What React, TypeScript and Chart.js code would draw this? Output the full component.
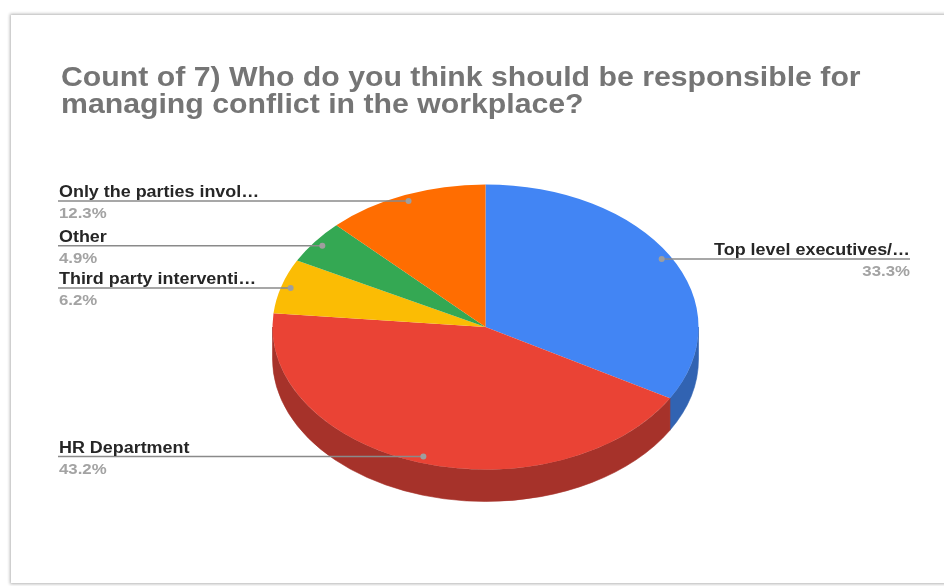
import React, { useEffect, useRef } from "react";
import { Chart, registerables } from "chart.js";

Chart.register(...registerables);

// ---- data ----
const TITLE_LINES = [
  "Count of 7) Who do you think should be responsible for",
  "managing conflict in the workplace?",
];
const categories = [
  "Top level executives/…",
  "HR Department",
  "Third party interventi…",
  "Other",
  "Only the parties invol…",
];
const counts = [27, 35, 5, 4, 10];
const topColors = ["#4285F4", "#EA4335", "#FBBC04", "#34A853", "#FF6D01"];
const sideColors = ["#3163B2", "#A6322A", "#B08404", "#25763B", "#B34D01"];

// ---- style constants ----
const SY = 0.669; // vertical squash of the tilted pie
const DEPTH = 32; // thickness of the 3D wall
const LABEL_R = 0.955; // where leader dots sit (fraction of radius)
const TEXT_SX = 1.12; // horizontal stretch of text
const FONT = '"Liberation Sans", Arial, Helvetica, sans-serif';

const total = counts.reduce((a, b) => a + b, 0);
const pctLabels = counts.map((c) => ((c / total) * 100).toFixed(1) + "%");

function stretchedText(
  ctx: CanvasRenderingContext2D,
  text: string,
  x: number,
  y: number,
  align: CanvasTextAlign
) {
  ctx.save();
  ctx.translate(x, y);
  ctx.scale(TEXT_SX, 1);
  ctx.textAlign = align;
  ctx.textBaseline = "alphabetic";
  ctx.fillText(text, 0, 0);
  ctx.restore();
}

const pie3d = {
  id: "pie3d",
  beforeDatasetsDraw(chart: any) {
    const ctx: CanvasRenderingContext2D = chart.ctx;
    const meta = chart.getDatasetMeta(0);
    const arcs = meta.data as any[];
    ctx.save();
    if (!arcs.length) return;
    const cx = arcs[0].x;
    const cy = arcs[0].y;
    const r = arcs[0].outerRadius;
    const ry = r * SY;
    arcs.forEach((arc, i) => {
      const s = Math.max(arc.startAngle, 0);
      const e = Math.min(arc.endAngle, Math.PI);
      if (e <= s) return;
      ctx.beginPath();
      ctx.ellipse(cx, cy, r, ry, 0, s, e, false);
      ctx.ellipse(cx, cy + DEPTH, r, ry, 0, e, s, true);
      ctx.closePath();
      ctx.fillStyle = sideColors[i];
      ctx.fill();
      ctx.strokeStyle = sideColors[i];
      ctx.lineWidth = 0.6;
      ctx.stroke();
    });
    ctx.translate(0, cy);
    ctx.scale(1, SY);
    ctx.translate(0, -cy);
  },
  afterDatasetsDraw(chart: any) {
    const ctx: CanvasRenderingContext2D = chart.ctx;
    ctx.restore();
    const meta = chart.getDatasetMeta(0);
    const arcs = meta.data as any[];
    if (!arcs.length) return;
    const cx = arcs[0].x;
    const cy = arcs[0].y;
    const r = arcs[0].outerRadius;
    const ry = r * SY;
    const leftX = 58;
    const rightX = 910;
    arcs.forEach((arc, i) => {
      const mid = (arc.startAngle + arc.endAngle) / 2;
      const px = cx + Math.cos(mid) * r * LABEL_R;
      const py = cy + Math.sin(mid) * ry * LABEL_R;
      const right = Math.cos(mid) > 0;
      const endX = right ? rightX : leftX;
      ctx.save();
      ctx.strokeStyle = "#8a8a8a";
      ctx.lineWidth = 1.5;
      ctx.beginPath();
      ctx.moveTo(px, py);
      ctx.lineTo(endX, py);
      ctx.stroke();
      ctx.fillStyle = "#9e9e9e";
      ctx.beginPath();
      ctx.arc(px, py, 3, 0, Math.PI * 2);
      ctx.fill();
      ctx.fillStyle = "#262626";
      ctx.font = `bold 16px ${FONT}`;
      const tx = right ? rightX : leftX + 1;
      stretchedText(ctx, categories[i], tx, py - 4, right ? "right" : "left");
      ctx.fillStyle = "#a3a3a3";
      ctx.font = `bold 15px ${FONT}`;
      stretchedText(ctx, pctLabels[i], tx, py + 17, right ? "right" : "left");
      ctx.restore();
    });
  },
  afterDraw(chart: any) {
    const ctx: CanvasRenderingContext2D = chart.ctx;
    ctx.save();
    ctx.fillStyle = "#757575";
    ctx.font = `bold 27px ${FONT}`;
    stretchedText(ctx, TITLE_LINES[0], 61, 86, "left");
    stretchedText(ctx, TITLE_LINES[1], 61, 113, "left");
    ctx.restore();
  },
};

export default function App() {
  const canvasRef = useRef<HTMLCanvasElement | null>(null);

  useEffect(() => {
    const canvas = canvasRef.current;
    if (!canvas) return;
    const chart = new Chart(canvas, {
      type: "pie",
      data: {
        labels: categories,
        datasets: [
          {
            data: counts,
            backgroundColor: topColors,
            borderWidth: 0,
            clip: false as any,
          },
        ],
      },
      options: {
        responsive: false,
        devicePixelRatio: 1,
        animation: false,
        events: [],
        layout: {
          padding: { left: 272.5, right: 245.5, top: 114, bottom: 46 },
        },
        plugins: {
          legend: { display: false },
          tooltip: { enabled: false },
          title: { display: false },
        },
      },
      plugins: [pie3d],
    });
    return () => chart.destroy();
  }, []);

  return (
    <div
      style={{
        position: "fixed",
        left: 0,
        top: 0,
        width: 944,
        height: 586,
        background: "#ffffff",
        overflow: "hidden",
      }}
    >
      <div
        style={{
          position: "absolute",
          left: 11,
          top: 15,
          width: 1000,
          height: 568,
          background: "#ffffff",
          boxShadow: "0 0 3px 1px rgba(0,0,0,0.3)",
        }}
      />
      <canvas
        ref={canvasRef}
        width={944}
        height={586}
        style={{ position: "absolute", left: 0, top: 0, display: "block" }}
      />
    </div>
  );
}
